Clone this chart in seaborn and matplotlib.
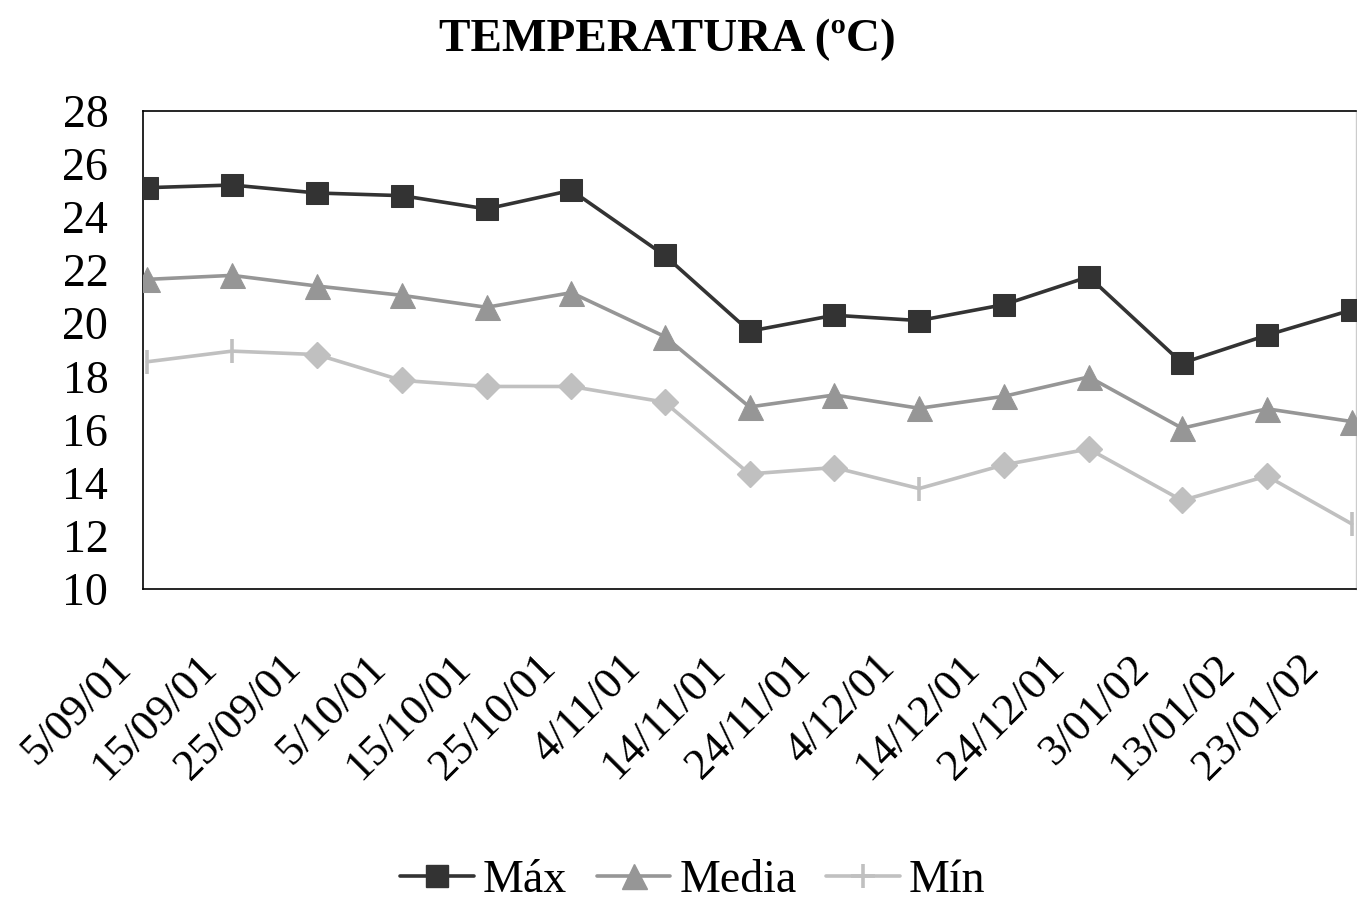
import matplotlib
matplotlib.use("Agg")
import matplotlib.pyplot as plt
import matplotlib.transforms as mtransforms
from matplotlib.lines import Line2D
import seaborn as sns
import pandas as pd
import numpy as np

# ---- data ----
dates = ["2001-09-05", "2001-09-15", "2001-09-25", "2001-10-05", "2001-10-15",
         "2001-10-25", "2001-11-05", "2001-11-15", "2001-11-25", "2001-12-05",
         "2001-12-15", "2001-12-25", "2002-01-05", "2002-01-15", "2002-01-25"]
t_max = [25.1, 25.2, 24.9, 24.8, 24.3, 25.0, 22.55, 19.7, 20.3, 20.1, 20.7, 21.75, 18.5, 19.55, 20.5]
t_media = [21.65, 21.8, 21.4, 21.05, 20.6, 21.15, 19.5, 16.85, 17.3, 16.8, 17.25, 17.98, 16.05, 16.78, 16.3]
t_min = [18.55, 18.95, 18.82, 17.85, 17.62, 17.62, 17.03, 14.33, 14.57, 13.78, 14.67, 15.27, 13.33, 14.25, 12.45]
min_bar_points = [0, 1, 9, 14]  # points of Mín drawn with the "+" style marker

tick_labels = ["5/09/01", "15/09/01", "25/09/01", "5/10/01", "15/10/01", "25/10/01",
               "4/11/01", "14/11/01", "24/11/01", "4/12/01", "14/12/01", "24/12/01",
               "3/01/02", "13/01/02", "23/01/02"]
y_ticks = [10, 12, 14, 16, 18, 20, 22, 24, 26, 28]

sns.set_theme(style="white")
plt.rcParams['font.family'] = ['Liberation Serif', 'DejaVu Serif']
plt.rcParams['text.color'] = 'black'
plt.rcParams['xtick.color'] = 'black'
plt.rcParams['ytick.color'] = 'black'

c_max, c_med, c_min = "#333333", "#969696", "#c0c0c0"
LW = 2.6

d = pd.to_datetime(dates) + pd.Timedelta(hours=12)
df = pd.DataFrame({"fecha": d, "Máx": t_max, "Media": t_media, "Mín": t_min})

fig = plt.figure(figsize=(13.57, 8.97), dpi=100)
ax = fig.add_axes([143/1357, 1 - 589/897, (1356-143)/1357, (589-110.6)/897])

sns.lineplot(data=df, x="fecha", y="Mín", color=c_min, lw=LW, ax=ax, zorder=2)
mask = np.array([i not in min_bar_points for i in range(len(dates))])
ax.plot(df["fecha"][mask], df["Mín"][mask], ls="none", marker="D", ms=13,
        color=c_min, mec=c_min, zorder=3)
ax.plot(df["fecha"][~mask], df["Mín"][~mask], ls="none", marker="|", ms=17,
        mew=2.6, color=c_min, zorder=3, clip_on=False)
sns.lineplot(data=df, x="fecha", y="Media", color=c_med, lw=LW, marker="^",
             markersize=18, markeredgecolor=c_med, ax=ax, zorder=4)
sns.lineplot(data=df, x="fecha", y="Máx", color=c_max, lw=LW, marker="s",
             markersize=16.5, markeredgecolor=c_max, ax=ax, zorder=5)

start = pd.Timestamp(dates[0])
end = pd.Timestamp(dates[-1]) + pd.Timedelta(days=1)
ax.set_xlim(start, end)
ax.set_ylim(10, 28)
tick_pos = [start + pd.Timedelta(days=10*i) for i in range(len(tick_labels))]
ax.set_xticks(tick_pos)
ax.set_yticks(y_ticks)
ax.tick_params(axis="both", direction="in", length=10, width=1, color="#555555")
ax.tick_params(axis="x", pad=24)
ax.tick_params(axis="y", pad=25)
ax.set_xticklabels(tick_labels, rotation=45, ha="right", va="top",
                   rotation_mode="anchor", fontsize=32)
ax.set_yticklabels([str(v) for v in y_ticks], fontsize=33)
offset = mtransforms.ScaledTranslation(-32/100, -25/100, fig.dpi_scale_trans)
for tk in ax.xaxis.get_major_ticks():
    tk.label1.set_transform(tk.label1.get_transform() + offset)
ax.set_xlabel("")
ax.set_ylabel("")
for s in ["left", "bottom", "top"]:
    ax.spines[s].set_color("black")
    ax.spines[s].set_linewidth(1.2)
ax.spines["right"].set_color("#cccccc")
ax.spines["right"].set_linewidth(1.0)

fig.text(667/1357, 1 - 40/897, "TEMPERATURA (ºC)", ha="center", va="center",
         fontsize=34, fontweight="bold", color="black")

handles = [
    Line2D([], [], color=c_max, lw=LW, marker="s", ms=16.5, mec=c_max),
    Line2D([], [], color=c_med, lw=LW, marker="^", ms=18, mec=c_med),
    Line2D([], [], color=c_min, lw=LW, marker="+", ms=17, mew=2.6),
]
fig.legend(handles, ["Máx", "Media", "Mín"], loc="center", ncol=3,
           bbox_to_anchor=(693/1357, 1 - 881/897), frameon=False, fontsize=33,
           handlelength=1.6, handletextpad=0.2, columnspacing=0.65)

fig.savefig("out.png", dpi=100)
